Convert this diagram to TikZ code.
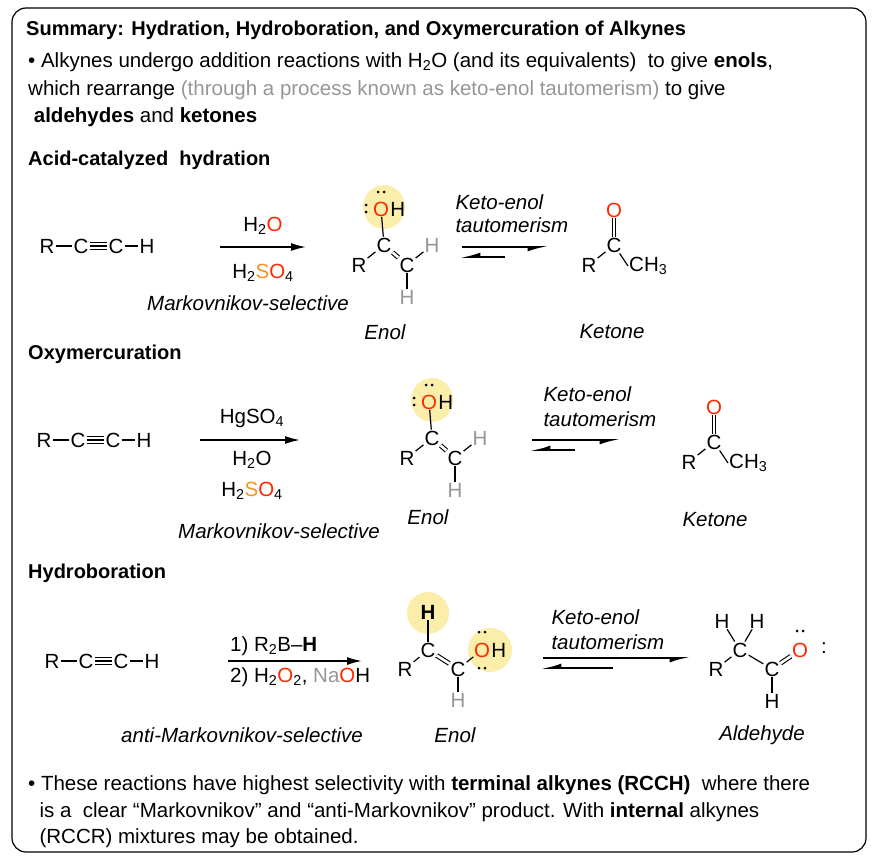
\documentclass[tikz,border=0pt]{standalone}
\usepackage{fontspec}
\setmainfont{Liberation Sans}
\usetikzlibrary{arrows.meta}
\definecolor{ored}{RGB}{255,40,0}
\definecolor{sor}{RGB}{247,148,29}
\definecolor{hgray}{RGB}{150,150,150}
\definecolor{hl}{RGB}{250,238,170}
\begin{document}
\begin{tikzpicture}[x=1pt,y=-1pt,
  every node/.style={font=\fontsize{20.5}{24}\selectfont},
  atm/.style={inner sep=1pt},
  tx/.style={anchor=west,inner sep=0pt},
  lab/.style={font=\fontsize{20.5}{24}\selectfont\itshape},
  hd/.style={font=\fontsize{20}{24}\selectfont\bfseries,anchor=west,inner sep=0pt},
  bd/.style={line width=1.2pt},
  dbd/.style={double,double distance=2.6pt,line width=1.1pt},
  glow/.style={fill=hl,draw=none},
  lp/.style={fill=black,draw=none},
  rxn/.style={line width=1.6pt,-{Latex[length=15pt,width=8pt]}},
  eqt/.style={line width=1.6pt,-{Latex[length=16pt,width=9pt,harpoon,swap]}},
  eqb/.style={line width=1.6pt,-{Latex[length=16pt,width=9pt,harpoon,swap]}}]
\useasboundingbox (0,0) rectangle (878,862);
\draw[line width=1.2pt,rounded corners=14pt] (12,8) rectangle (866,852);
\node[hd] (title) at (26,30) {Summary: Hydration, Hydroboration, and Oxymercuration of Alkynes};
\node[tx] (b1) at (28,62) {• Alkynes undergo addition reactions with H\textsubscript{2}O (and its equivalents)\ \ to give \textbf{enols},};
\node[tx] (b2) at (28,90) {which rearrange {\color{hgray}(through a process known as keto-enol tautomerism)} to give};
\node[tx] (b3) at (28,117) {\ \textbf{aldehydes} and \textbf{ketones}};

\newcommand{\alkyne}[3]{%
  \node[atm] (#1R) at (#2,#3) {R};
  \node[atm] (#1C1) at (#2+34,#3) {C};
  \node[atm] (#1C2) at (#2+69,#3) {C};
  \node[atm] (#1H) at (#2+100,#3) {H};
  \draw[bd] (#1R) -- (#1C1);
  \draw[bd] (#1C2) -- (#1H);
  \draw[bd] (#1C1) -- (#1C2);
  \draw[bd] ([yshift=-3.5pt]#1C1.east) -- ([yshift=-3.5pt]#1C2.west);
  \draw[bd] ([yshift=3.5pt]#1C1.east) -- ([yshift=3.5pt]#1C2.west);}

\newcommand{\mkenol}[2]{%
  \fill[glow] (#1,#2-38) ellipse (21pt and 22pt);
  \node[atm,text=ored,inner sep=0.5pt] (#1O) at (#1-3,#2-36) {O};
  \node[atm,anchor=west,inner sep=0.5pt] at (#1O.east) {H};
  \fill[lp] (#1-6,#2-53) circle (1.5pt) (#1,#2-53) circle (1.5pt);
  \fill[lp] (#1-18,#2-40) circle (1.5pt) (#1-18,#2-33) circle (1.5pt);
  \node[atm] (#1C) at (#1,#2) {C};
  \node[atm] (#1R) at (#1-25,#2+20) {R};
  \node[atm] (#1D) at (#1+23,#2+20) {C};
  \node[atm,text=hgray] (#1Ha) at (#1+48,#2) {H};
  \node[atm,text=hgray] (#1Hb) at (#1+23,#2+52) {H};
  \draw[bd] (#1O) -- (#1C);
  \draw[bd] (#1R) -- (#1C);
  \draw[dbd] (#1C) -- (#1D);
  \draw[bd] (#1D) -- (#1Ha);
  \draw[bd] (#1D) -- (#1Hb);}
\newcommand{\ketone}[2]{%
  \node[atm] (#1kC) at (#1,#2) {C};
  \node[atm,text=ored] (#1kO) at (#1,#2-35) {O};
  \node[atm] (#1kR) at (#1-25,#2+20) {R};
  \node[atm,anchor=west] (#1kM) at (#1+14,#2+21) {CH\textsubscript{3}};
  \draw[dbd] (#1kO) -- (#1kC);
  \draw[bd] (#1kR) -- (#1kC);
  \draw[bd] (#1kC) -- (#1kM.west);}
\newcommand{\equil}[5]{%
  \coordinate (#1a) at (#2,#4); \coordinate (#1b) at (#3,#4);
  \coordinate (#1c) at (#5,#4+10); \coordinate (#1d) at (#2-2,#4+10);
  \draw[eqt] (#1a) -- (#1b);
  \draw[eqb] (#1c) -- (#1d);}

% ===== Section 1
\node[hd] (h1) at (28,160) {Acid-catalyzed\ \ hydration};
\alkyne{a}{47}{246}
\coordinate (ar1s) at (220,247); \coordinate (ar1e) at (306,247);
\draw[rxn] (ar1s) -- (ar1e);
\node (r1a) at (263,226) {H\textsubscript{2}{\color{ored}O}};
\node (r1b) at (263,273) {H\textsubscript{2}{\color{sor}S}{\color{ored}O}\textsubscript{4}};
\node[lab] (r1c) at (248,303) {Markovnikov-selective};
\mkenol{384}{245}
\node[lab] (e1) at (385,332) {Enol};
\equil{q1}{462}{548}{247}{505}
\node[lab,anchor=west] (k1a) at (452,202) {Keto-enol};
\node[lab,anchor=west] (k1b) at (452,225) {tautomerism};
\ketone{614}{245}
\node[lab] (kt1) at (612,332) {Ketone};

% ===== Section 2
\node[hd] (h2) at (28,354) {Oxymercuration};
\alkyne{b}{44}{440}
\coordinate (ar2s) at (200,440); \coordinate (ar2e) at (300,440);
\draw[rxn] (ar2s) -- (ar2e);
\node (r2a) at (252,418) {HgSO\textsubscript{4}};
\node (r2b) at (252,460) {H\textsubscript{2}O};
\node (r2c) at (252,491) {H\textsubscript{2}{\color{sor}S}{\color{ored}O}\textsubscript{4}};
\node[lab] (r2d) at (279,531) {Markovnikov-selective};
\mkenol{432}{438}
\node[lab] (e2) at (428,517) {Enol};
\equil{q2}{532}{620}{440}{575}
\node[lab,anchor=west] (k2a) at (540,394) {Keto-enol};
\node[lab,anchor=west] (k2b) at (540,419) {tautomerism};
\ketone{714}{442}
\node[lab] (kt2) at (715,520) {Ketone};

% ===== Section 3
\node[hd] (h3) at (28,573) {Hydroboration};
\alkyne{c}{52}{661}
\coordinate (ar3s) at (228,661); \coordinate (ar3e) at (362,661);
\draw[rxn] (ar3s) -- (ar3e);
\node[tx] (r3a) at (230,646) {1) R\textsubscript{2}B–\textbf{H}};
\node[tx] (r3b) at (230,677) {2) H\textsubscript{2}{\color{ored}O}\textsubscript{2}, {\color{hgray}Na}{\color{ored}O}H};
\node[lab] (r3c) at (242,735) {anti-Markovnikov-selective};
\fill[glow] (428,613) circle (21pt);
\fill[glow] (490,650) circle (22pt);
\node[atm,font=\fontsize{20.5}{24}\selectfont\bfseries] (cH) at (428,612) {H};
\node[atm] (cC1) at (428,650) {C};
\node[atm] (cR) at (405,669) {R};
\node[atm] (cC2) at (458,669) {C};
\node[atm,text=ored,inner sep=0.5pt] (cO) at (482,650) {O};
\node[atm,anchor=west,inner sep=0.5pt] (cOH) at (cO.east) {H};
\node[atm,text=hgray] (cHb) at (458,700) {H};
\fill[lp] (479,632) circle (1.5pt) (485,632) circle (1.5pt) (479,668) circle (1.5pt) (485,668) circle (1.5pt);
\draw[bd] (cH) -- (cC1);
\draw[bd] (cR) -- (cC1);
\draw[dbd] (cC1) -- (cC2);
\draw[bd] (cC2) -- (cO);
\draw[bd] (cC2) -- (cHb);
\node[lab] (e3) at (455,735) {Enol};
\equil{q3}{543}{690}{658}{613}
\node[lab,anchor=west] (k3a) at (548,617) {Keto-enol};
\node[lab,anchor=west] (k3b) at (548,642) {tautomerism};
\node[atm] (dH1) at (722,621) {H};
\node[atm] (dH2) at (757,621) {H};
\node[atm] (dC1) at (740,650) {C};
\node[atm] (dR) at (716,669) {R};
\node[atm] (dC2) at (772,669) {C};
\node[atm,text=ored] (dO) at (800,650) {O};
\node[atm] (dHb) at (772,701) {H};
\node[atm] (dcol) at (824,648) {:};
\fill[lp] (797,631) circle (1.5pt) (803,631) circle (1.5pt);
\draw[bd] (dH1) -- (dC1);
\draw[bd] (dH2) -- (dC1);
\draw[bd] (dR) -- (dC1);
\draw[bd] (dC1) -- (dC2);
\draw[bd] (dC2) -- (dHb);
\draw[dbd] (dC2) -- (dO);
\node[lab] (al) at (762,735) {Aldehyde};

% ===== bottom
\node[tx] (f1) at (28,785) {• These reactions have highest selectivity with \textbf{terminal alkynes (RCCH)}\ \ where there};
\node[tx] (f2) at (28,812) {\ \ is a\ \ clear “Markovnikov” and “anti-Markovnikov” product. With \textbf{internal} alkynes};
\node[tx] (f3) at (28,838) {\ \ (RCCR) mixtures may be obtained.};
\end{tikzpicture}
\end{document}
